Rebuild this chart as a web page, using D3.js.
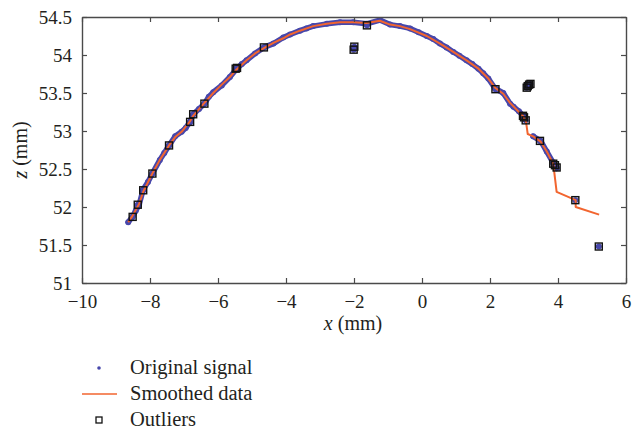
<!DOCTYPE html>
<html>
<head>
<meta charset="utf-8">
<script src="https://cdn.jsdelivr.net/npm/d3@7"></script>
<style>
    body { margin: 0; background: #fff; }
    svg { display: block; }
    text { font-family: "Liberation Serif", serif; fill: #231f20; }
</style>
</head>
<body>
<svg id="chart" width="632" height="434"></svg>
<script>
// original signal (x, z in mm)
var signalX = [-8.64, -8.52, -8.42, -8.32, -8.20, -8.06, -7.93, -7.71, -7.58, -7.44, -7.26, -7.07, -6.95, -6.82, -6.73, -6.56,
    -6.40, -6.27, -6.14, -5.89, -5.65, -5.45, -5.30, -5.16, -4.91, -4.65, -4.37, -4.08, -3.88, -3.59, -3.40, -3.20, -2.80,
    -2.41, -2.02, -1.63, -1.24, -0.94, -0.65, -0.35, -0.10, 0.14, 0.33, 0.53, 0.72, 0.92, 1.10, 1.31, 1.48, 1.66, 1.80,
    1.95, 2.15, 2.39, 2.59, 2.69, 2.85, 2.98, 3.27, 3.49, 3.67, 3.86, 3.96];
var signalZ = [51.80, 51.87, 51.95, 52.03, 52.23, 52.33, 52.44, 52.62, 52.71, 52.81, 52.93, 52.99, 53.04, 53.12, 53.22, 53.29,
    53.36, 53.45, 53.51, 53.60, 53.71, 53.82, 53.88, 53.93, 54.02, 54.10, 54.15, 54.23, 54.27, 54.32, 54.35, 54.38, 54.41,
    54.43, 54.43, 54.41, 54.46, 54.40, 54.38, 54.35, 54.30, 54.25, 54.21, 54.15, 54.10, 54.04, 53.99, 53.93, 53.88, 53.82, 53.76,
    53.69, 53.56, 53.50, 53.36, 53.32, 53.26, 53.20, 52.93, 52.87, 52.73, 52.58, 52.51];

// smoothed data
var smoothX = [-8.64, -8.52, -8.32, -8.20, -7.93, -7.71, -7.44, -7.26, -7.07, -6.82, -6.73, -6.40, -6.14, -5.89, -5.65, -5.45,
    -5.16, -4.91, -4.65, -4.37, -4.08, -3.88, -3.59, -3.20, -2.80, -2.41, -2.02, -1.63, -1.24, -0.94, -0.65, -0.35, 0.14, 0.53,
    0.92, 1.31, 1.66, 1.95, 2.15, 2.39, 2.59, 2.98, 3.06, 3.11, 3.27, 3.49, 3.67, 3.86, 3.96, 4.52, 4.52, 5.21];
var smoothZ = [51.80, 51.88, 52.04, 52.20, 52.44, 52.62, 52.81, 52.92, 52.99, 53.13, 53.20, 53.37, 53.50, 53.61, 53.71, 53.81,
    53.93, 54.02, 54.09, 54.16, 54.22, 54.27, 54.32, 54.38, 54.41, 54.43, 54.43, 54.42, 54.45, 54.40, 54.38, 54.34, 54.25, 54.15,
    54.04, 53.93, 53.82, 53.69, 53.57, 53.49, 53.37, 53.19, 53.12, 52.96, 52.93, 52.86, 52.73, 52.57, 52.20, 52.09, 52.00, 51.90];

// outliers (also original samples)
var outlierX = [-8.51, -8.36, -8.20, -7.93, -7.44, -6.82, -6.73, -6.40, -5.48, -5.44, -4.65, -1.99, -2.01, -1.62, 2.16,
    3.08, 3.11, 3.15, 3.19, 2.97, 3.00, 3.05, 3.47, 3.86, 3.91, 3.96, 4.51, 5.20];
var outlierZ = [51.87, 52.03, 52.22, 52.44, 52.81, 53.12, 53.22, 53.36, 53.82, 53.83, 54.10, 54.11, 54.07, 54.39, 53.55,
    53.57, 53.59, 53.61, 53.62, 53.20, 53.18, 53.14, 52.87, 52.57, 52.55, 52.52, 52.09, 51.48];

var xTicks = [-10, -8, -6, -4, -2, 0, 2, 4, 6];
var zTicks = [51, 51.5, 52, 52.5, 53, 53.5, 54, 54.5];
var legendLabels = ['Original signal', 'Smoothed data', 'Outliers'];

var blue = '#4747ab', orange = '#f2652f', axisColor = '#4a4a4a';
var serif = '"Liberation Serif", "Times New Roman", serif';

var svg = d3.select('#chart');
var box = {left: 82, top: 17, right: 626, bottom: 283};

var x = d3.scaleLinear().domain([-10, 6]).range([box.left, box.right]);
var y = d3.scaleLinear().domain([51, 54.5]).range([box.bottom, box.top]);

var signal = signalX.map(function (v, i) { return [v, signalZ[i]]; });
var smooth = smoothX.map(function (v, i) { return [v, smoothZ[i]]; });
var outliers = outlierX.map(function (v, i) { return [v, outlierZ[i]]; });

//split the signal where samples were dropped, so the band is not bridged
var runs = [[]];
signal.forEach(function (d, i) {
    if (i > 0) {
        var p = signal[i - 1];
        var dist = Math.hypot(x(d[0]) - x(p[0]), y(d[1]) - y(p[1]));
        if (dist > 18) runs.push([]);
    }
    runs[runs.length - 1].push(d);
});

var line = d3.line().x(function (d) { return x(d[0]); }).y(function (d) { return y(d[1]); });

var plot = svg.append('g').attr('class', 'plot');

// dense dots of the original signal look like a band
plot.selectAll('path.band').data(runs).enter().append('path').attr('class', 'band')
    .attr('d', line).attr('fill', 'none').attr('stroke', blue).attr('stroke-width', 5.5)
    .attr('stroke-linecap', 'round').attr('stroke-linejoin', 'round');
plot.selectAll('circle.signal').data(signal.concat(outliers)).enter().append('circle').attr('class', 'signal')
    .attr('cx', function (d) { return x(d[0]); })
    .attr('cy', function (d) { return y(d[1]); })
    .attr('r', 3).attr('fill', blue);

plot.append('path').datum(smooth).attr('d', line).attr('fill', 'none')
    .attr('stroke', orange).attr('stroke-width', 2).attr('stroke-linejoin', 'round');

var sq = 7;
plot.selectAll('rect.outlier').data(outliers).enter().append('rect').attr('class', 'outlier')
    .attr('x', function (d) { return x(d[0]) - sq / 2; })
    .attr('y', function (d) { return y(d[1]) - sq / 2; })
    .attr('width', sq).attr('height', sq)
    .attr('fill', 'none').attr('stroke', '#111').attr('stroke-width', 1.4);

// axes: ticks point inward on all four sides
function styleAxis(g) {
    g.attr('font-family', null).attr('font-size', null);
    g.select('.domain').attr('stroke', axisColor).attr('stroke-width', 1.4);
    g.selectAll('.tick line').attr('stroke', axisColor).attr('stroke-width', 1.2);
    g.selectAll('.tick text').style('font-family', serif).style('font-size', '19px').attr('fill', '#231f20');
}

svg.append('g').attr('transform', 'translate(0,' + box.bottom + ')')
    .call(d3.axisBottom(x).tickValues(xTicks).tickSizeInner(-5).tickSizeOuter(0).tickPadding(12))
    .call(styleAxis);
svg.append('g').attr('transform', 'translate(0,' + box.top + ')')
    .call(d3.axisTop(x).tickValues(xTicks).tickSizeInner(-5).tickSizeOuter(0).tickFormat(''))
    .call(styleAxis);
svg.append('g').attr('transform', 'translate(' + box.left + ',0)')
    .call(d3.axisLeft(y).tickValues(zTicks).tickSizeInner(-5).tickSizeOuter(0).tickPadding(10)
        .tickFormat(d3.format('')))
    .call(styleAxis);
svg.append('g').attr('transform', 'translate(' + box.right + ',0)')
    .call(d3.axisRight(y).tickValues(zTicks).tickSizeInner(-5).tickSizeOuter(0).tickFormat(''))
    .call(styleAxis);

var xl = svg.append('text').attr('x', 353).attr('y', 330).attr('text-anchor', 'middle').style('font-size', '20px');
xl.append('tspan').style('font-style', 'italic').text('x');
xl.append('tspan').text(' (mm)');

var yl = svg.append('text').attr('transform', 'translate(27,150) rotate(-90)').attr('text-anchor', 'middle')
    .style('font-size', '20px');
yl.append('tspan').style('font-style', 'italic').text('z');
yl.append('tspan').text(' (mm)');

// legend
var leg = svg.append('g').attr('class', 'legend');
var rows = leg.selectAll('g.row').data(legendLabels).enter().append('g').attr('class', 'row')
    .attr('transform', function (d, i) { return 'translate(0,' + (368 + i * 26) + ')'; });
rows.append('text').attr('x', 130).attr('y', 6).style('font-size', '20.5px').text(function (d) { return d; });

var r1 = d3.select(rows.nodes()[0]);
r1.append('circle').attr('cx', 99).attr('cy', 0).attr('r', 1.8).attr('fill', blue);
var r2 = d3.select(rows.nodes()[1]);
r2.append('line').attr('x1', 82).attr('x2', 117).attr('y1', 0).attr('y2', 0)
    .attr('stroke', orange).attr('stroke-width', 1.5);
var r3 = d3.select(rows.nodes()[2]);
r3.append('rect').attr('x', 96).attr('y', -3).attr('width', 6).attr('height', 6)
    .attr('fill', 'none').attr('stroke', '#111').attr('stroke-width', 1.3);
</script>
</body>
</html>
